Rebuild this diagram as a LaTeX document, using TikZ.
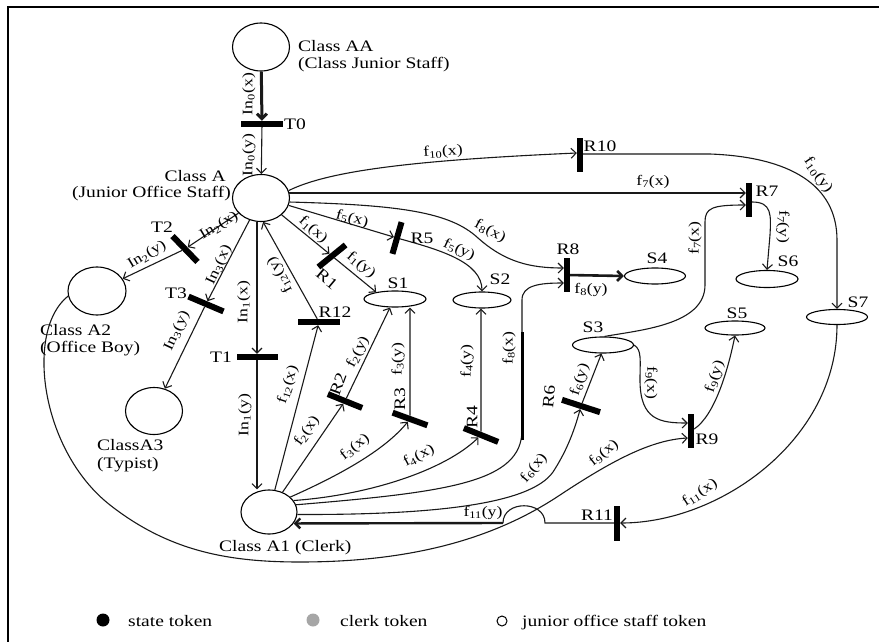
\documentclass[tikz,border=0pt]{standalone}
\usepackage{fontspec}
\setmainfont{Liberation Serif}[FakeStretch=1.22]
\usetikzlibrary{arrows.meta,shapes.geometric}
\newcommand\fxy[3]{#1\textsubscript{#2}(#3)}
\begin{document}
\begin{tikzpicture}[x=1pt,y=-1pt,
  every node/.style={font=\fontsize{16}{19}\selectfont, inner sep=0pt},
  elab/.style={font=\fontsize{14.5}{17}\selectfont},
  ln/.style={line width=1.1pt, draw=black!90},
  arr/.style={ln, -{Straight Barb[length=5pt,width=10pt]}},
  place/.style 2 args={ellipse, draw, line width=1.1pt, minimum width=#1, minimum height=#2, inner sep=0pt},
  hbar/.style={rectangle, fill=black, minimum width=#1, minimum height=6pt, inner sep=0pt},
  vbar/.style={rectangle, fill=black, minimum width=6pt, minimum height=#1, inner sep=0pt}
]
\useasboundingbox (0,0) rectangle (879,642);
\draw[line width=1.4pt] (8,660) -- (8,7) -- (900,7);

% places
\node[place={57pt}{48pt}] (AA) at (261,47) {};
\node[place={57pt}{47pt}] (A) at (261,198) {};
\node[place={58pt}{48pt}] (A2) at (97,291) {};
\node[place={57pt}{47pt}] (A3) at (154,411) {};
\node[place={56pt}{44pt}] (A1) at (269,512) {};
\node[place={62pt}{16pt}] (S1) at (395,299) {};
\node[place={58pt}{16pt}] (S2) at (482,300) {};
\node[place={61pt}{16pt}] (S3) at (603,345) {};
\node[place={61pt}{16pt}] (S4) at (655,276) {};
\node[place={60pt}{14pt}] (S5) at (735,328) {};
\node[place={62pt}{17pt}] (S6) at (767,279) {};
\node[place={61pt}{15pt}] (S7) at (837,317) {};

% bars
\node[hbar=42pt] (T0) at (262,124) {};
\node[hbar=41pt] (T1) at (257,357) {};
\node[hbar=36pt, rotate=-46] (T2) at (185,249) {};
\node[hbar=38pt, rotate=-23] (T3) at (206,304) {};
\node[hbar=35pt, rotate=39] (R1) at (332,256) {};
\node[vbar=33pt, rotate=-16] (R5) at (397,238) {};
\node[hbar=42pt] (R12) at (319,322) {};
\node[hbar=37pt, rotate=-22] (R2) at (345,401) {};
\node[hbar=37pt, rotate=-20] (R3) at (410,419) {};
\node[hbar=37pt, rotate=-22] (R4) at (481,435) {};
\node[hbar=40pt, rotate=-18] (R6) at (581,406) {};
\node[vbar=34pt] (R7) at (749,200) {};
\node[vbar=34pt] (R8) at (567,275) {};
\node[vbar=34pt] (R9) at (691,431) {};
\node[vbar=34pt] (R10) at (580,155) {};
\node[vbar=35pt] (R11) at (617,523) {};

% connectors
\draw[arr, line width=3pt] (AA) -- (T0);
\draw[arr] (T0) -- (A);
\draw[arr] (A) -- (T2);
\draw[arr] (T2) -- (A2);
\draw[arr] (A) -- (T3);
\draw[arr] (T3) -- (A3);
\draw[arr] (A.south -| T1) -- (T1);
\draw[arr] (T1) -- (T1 |- A1.north);
\draw[arr] (A) -- (R1);
\draw[arr] (R1) -- (S1.160);
\draw[arr] (A.-15) -- (R5);
\draw[arr] (R5) .. controls (440,250) and (482,262) .. (S2.north);
\draw[arr] (A.-8) .. controls (400,205) and (450,212) .. (478,238) .. controls (505,262) and (530,268) .. ([yshift=7pt]R8.west);
\draw[arr] (A.10) -- (A.10 -| R7.west);
\draw[arr] (A.15) .. controls (330,170) and (420,160) .. ([yshift=2pt]R10.west);
\draw[arr] ([yshift=1pt]R10.east) -- (710,154) .. controls (790,157) and (837,185) .. (837,240) -- (S7.north);
\draw[arr] (S7.south) .. controls (837,440) and (720,523) .. (R11.east);
\coordinate (h1) at (545,523);
\coordinate (h2) at (503,523);
\draw[ln] (R11.west) -- (h1) .. controls (545,500) and (503,500) .. (h2);
\draw[arr, line width=2.4pt] (h2) -- (A1.-25);
\draw[arr] (A1) -- (R12);
\draw[arr] (R12) -- (A.-85);
\draw[arr] (A1) -- (R2);
\draw[arr] (R2) -- ([xshift=-5pt]S1.south);
\draw[arr] (A1.35) .. controls (340,475) and (385,450) .. (R3);
\draw[arr] (R3) -- (R3 |- S1.south);
\draw[arr] (A1.25) .. controls (370,495) and (445,470) .. (R4);
\draw[arr] (R4) -- (R4 |- S2.south);
\draw[arr] (A1.15) .. controls (450,492) and (522,482) .. (522,430) -- (522,300) .. controls (522,285) and (540,283) .. ([yshift=-8pt]R8.west);
\draw[line width=3pt] (522,332) -- (522,440);
\draw[arr] (A1.-5) .. controls (430,515) and (530,505) .. (553,472) .. controls (566,452) and (574,432) .. (R6);
\draw[arr] (R6) -- (S3.-100);
\draw[arr] (A2.190) .. controls (25,330) and (40,450) .. (110,505) .. controls (170,552) and (230,562) .. (300,562) .. controls (420,562) and (500,535) .. (560,495) .. controls (610,462) and (650,440) .. ([yshift=-7pt]R9.west);
\draw[arr] (S3.east) .. controls (642,350) and (640,360) .. (640,380) .. controls (640,420) and (660,423) .. ([yshift=8pt]R9.west);
\draw[arr] ([yshift=2pt]R9.east) .. controls (715,415) and (728,370) .. (S5.south);
\draw[arr] (S3.80) .. controls (640,330) and (705,325) .. (705,285) -- (705,222) .. controls (705,208) and (712,205) .. ([yshift=-5pt]R7.west);
\draw[arr] ([yshift=-2pt]R7.east) .. controls (772,202) and (771,215) .. (770,235) -- (S6.north);
\draw[arr, line width=2.6pt] (R8) -- (S4.west);

% class texts
\node[anchor=base west] (tAA1) at (298,52) {Class AA};
\node[anchor=base west] (tAA2) at (298,69) {(Class Junior Staff)};
\node[anchor=base east] (tA1) at (226,181) {Class A};
\node[anchor=base east] (tA2) at (231,197) {(Junior Office Staff)};
\node[anchor=base west] (tA21) at (40,335) {Class A2};
\node[anchor=base west] (tA22) at (40,352) {(Office Boy)};
\node[anchor=base west] (tA31) at (97,450) {ClassA3};
\node[anchor=base west] (tA32) at (97,468) {(Typist)};
\node[anchor=base west] (tA1c) at (219,551) {Class A1 (Clerk)};

% bar labels
\node[anchor=base west] (lT0) at (284,129) {T0};
\node (lT1) at (221,357) {T1};
\node (lT2) at (162,227) {T2};
\node (lT3) at (176,293) {T3};
\node[rotate=-40] (lR1) at (327,279) {R1};
\node (lR5) at (422,238) {R5};
\node (lR12) at (335,312) {R12};
\node[rotate=70] (lR2) at (338,384) {R2};
\node[rotate=90] (lR3) at (400,399) {R3};
\node[rotate=90] (lR4) at (472,417) {R4};
\node[rotate=85] (lR6) at (549,397) {R6};
\node (lR7) at (767,191) {R7};
\node (lR8) at (568,249) {R8};
\node (lR9) at (707,439) {R9};
\node (lR10) at (600,146) {R10};
\node (lR11) at (597,515) {R11};

% S labels
\node (lS1) at (398,283) {S1};
\node (lS2) at (500,279) {S2};
\node (lS3) at (593,327) {S3};
\node (lS4) at (657,258) {S4};
\node (lS5) at (737,313) {S5};
\node (lS6) at (788,261) {S6};
\node (lS7) at (858,302) {S7};

% arc labels
\node[elab, rotate=90] (e1) at (249,94) {\fxy{In}{0}{x}};
\node[elab, rotate=90] (e2) at (249,155) {\fxy{In}{0}{y}};
\node[elab, rotate=31] (e3) at (219,226) {\fxy{In}{2}{x}};
\node[elab, rotate=31] (e4) at (147,255) {\fxy{In}{2}{y}};
\node[elab, rotate=65] (e5) at (219,265) {\fxy{In}{3}{x}};
\node[elab, rotate=65] (e6) at (177,331) {\fxy{In}{3}{y}};
\node[elab, rotate=90] (e7) at (244,302) {\fxy{In}{1}{x}};
\node[elab, rotate=90] (e8) at (245,415) {\fxy{In}{1}{y}};
\node[elab, rotate=118] (e9) at (280,275) {\fxy{f}{12}{y}};
\node[elab, rotate=72] (e10) at (288,385) {\fxy{f}{12}{x}};
\node[elab, rotate=-42] (e11) at (313,230) {\fxy{f}{1}{x}};
\node[elab, rotate=-40] (e12) at (361,265) {\fxy{f}{1}{y}};
\node[elab, rotate=-15] (e13) at (352,219) {\fxy{f}{5}{x}};
\node[elab, rotate=-25] (e14) at (459,250) {\fxy{f}{5}{y}};
\node[elab, rotate=-28] (e15) at (490,231) {\fxy{f}{8}{x}};
\node[elab] (e16) at (591,290) {\fxy{f}{8}{y}};
\node[elab] (e17) at (653,182) {\fxy{f}{7}{x}};
\node[elab, rotate=4] (e18) at (443,152) {\fxy{f}{10}{x}};
\node[elab, rotate=-55] (e19) at (818,175) {\fxy{f}{10}{y}};
\node[elab, rotate=90] (e20) at (695,238) {\fxy{f}{7}{x}};
\node[elab, rotate=-90] (e21) at (783,227) {\fxy{f}{7}{y}};
\node[elab, rotate=-90] (e22) at (651,383) {\fxy{f}{9}{x}};
\node[elab, rotate=72] (e23) at (715,377) {\fxy{f}{9}{y}};
\node[elab, rotate=38] (e24) at (604,453) {\fxy{f}{9}{x}};
\node[elab, rotate=33] (e25) at (700,493) {\fxy{f}{11}{x}};
\node[elab] (e26) at (483,513) {\fxy{f}{11}{y}};
\node[elab, rotate=55] (e27) at (307,431) {\fxy{f}{2}{x}};
\node[elab, rotate=63] (e28) at (358,352) {\fxy{f}{2}{y}};
\node[elab, rotate=90] (e29) at (398,359) {\fxy{f}{3}{y}};
\node[elab, rotate=38] (e30) at (355,447) {\fxy{f}{3}{x}};
\node[elab, rotate=90] (e31) at (467,361) {\fxy{f}{4}{y}};
\node[elab, rotate=28] (e32) at (419,456) {\fxy{f}{4}{x}};
\node[elab, rotate=90] (e33) at (509,348) {\fxy{f}{8}{x}};
\node[elab, rotate=72] (e34) at (580,380) {\fxy{f}{6}{y}};
\node[elab, rotate=50] (e35) at (534,468) {\fxy{f}{6}{x}};

% legend
\node[circle, fill=black, minimum size=13pt] (k1) at (103,620) {};
\node[anchor=base west] (k1t) at (128,626) {state token};
\node[circle, fill=black!35, minimum size=13pt] (k2) at (313,620) {};
\node[anchor=base west] (k2t) at (340,626) {clerk token};
\node[circle, draw, line width=1pt, minimum size=10pt] (k3) at (502,621) {};
\node[anchor=base west] (k3t) at (522,626) {junior office staff token};
\end{tikzpicture}
\end{document}
